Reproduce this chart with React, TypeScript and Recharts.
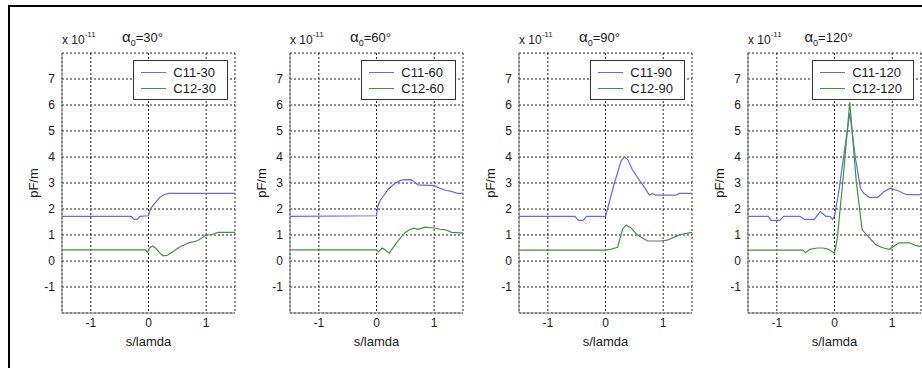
import { LineChart, Line, XAxis, YAxis, CartesianGrid, Legend, Label } from "recharts"

type Pt = [number, number]

// incidence angles, one panel each
const ANGLES = [30, 60, 90, 120]
const X_TICKS = [-1, 0, 1]
const Y_TICKS = [-1, 0, 1, 2, 3, 4, 5, 6, 7]

// values are in units of 1e-11 pF/m, x in s/lamda
const C11_30: Pt[] = [
  [-1.5, 1.72], [-0.3, 1.72], [-0.25, 1.6], [-0.2, 1.6], [-0.15, 1.72], [0, 1.74],
  [0.03, 2.0], [0.1, 2.2], [0.2, 2.45], [0.27, 2.55], [0.35, 2.6], [1.5, 2.6],
]
const C12_30: Pt[] = [
  [-1.5, 0.43], [-0.05, 0.43], [-0.02, 0.33], [0.02, 0.5], [0.07, 0.58], [0.12, 0.5],
  [0.2, 0.3], [0.25, 0.2], [0.33, 0.22], [0.45, 0.4], [0.55, 0.55], [0.7, 0.7],
  [0.85, 0.78], [1.0, 1.0], [1.1, 1.02], [1.2, 1.1], [1.5, 1.1],
]
const C11_60: Pt[] = [
  [-1.5, 1.72], [0, 1.74], [0.02, 2.1], [0.07, 2.35], [0.12, 2.5], [0.2, 2.75],
  [0.3, 2.95], [0.4, 3.08], [0.45, 3.12], [0.6, 3.13], [0.65, 3.05], [0.72, 2.93],
  [1.0, 2.9], [1.1, 2.8], [1.2, 2.72], [1.3, 2.68], [1.4, 2.6], [1.5, 2.6],
]
const C12_60: Pt[] = [
  [-1.5, 0.43], [0, 0.43], [0.03, 0.35], [0.1, 0.5], [0.15, 0.42], [0.22, 0.3],
  [0.3, 0.55], [0.4, 0.85], [0.5, 1.1], [0.57, 1.2], [0.65, 1.26], [0.72, 1.22],
  [0.85, 1.3], [1.0, 1.27], [1.1, 1.22], [1.2, 1.2], [1.3, 1.1], [1.5, 1.07],
]
const C11_90: Pt[] = [
  [-1.5, 1.72], [-0.53, 1.72], [-0.47, 1.56], [-0.39, 1.56], [-0.33, 1.72], [0, 1.72],
  [0.155, 3.0], [0.27, 3.85], [0.33, 4.0], [0.385, 3.9], [0.47, 3.5], [0.59, 3.1],
  [0.67, 2.85], [0.76, 2.54], [0.82, 2.6], [0.87, 2.53], [1.22, 2.53], [1.28, 2.6], [1.5, 2.6],
]
const C12_90: Pt[] = [
  [-1.5, 0.42], [0, 0.42], [0.1, 0.46], [0.21, 0.53], [0.3, 1.25], [0.36, 1.38],
  [0.44, 1.28], [0.53, 1.05], [0.61, 0.92], [0.73, 0.77], [0.96, 0.77], [1.07, 0.8],
  [1.19, 0.92], [1.3, 1.02], [1.5, 1.1],
]
const C11_120: Pt[] = [
  [-1.5, 1.72], [-1.15, 1.72], [-1.1, 1.56], [-0.95, 1.56], [-0.88, 1.72], [-0.6, 1.72],
  [-0.52, 1.6], [-0.35, 1.6], [-0.25, 1.9], [-0.15, 1.72], [-0.08, 1.72], [-0.03, 1.6],
  [0, 1.75], [0.07, 2.6], [0.17, 4.2], [0.265, 5.7], [0.36, 4.0], [0.45, 2.8], [0.5, 2.62],
  [0.6, 2.45], [0.75, 2.45], [0.85, 2.65], [0.97, 2.8], [1.1, 2.7], [1.25, 2.55], [1.5, 2.55],
]
const C12_120: Pt[] = [
  [-1.5, 0.42], [-0.55, 0.42], [-0.5, 0.32], [-0.43, 0.45], [-0.3, 0.5], [-0.2, 0.5],
  [-0.1, 0.45], [0, 0.3], [0.05, 0.9], [0.15, 3.2], [0.265, 6.1], [0.38, 3.0], [0.48, 1.2],
  [0.6, 0.9], [0.72, 0.62], [0.85, 0.5], [0.95, 0.45], [1.05, 0.6], [1.12, 0.7], [1.3, 0.7],
  [1.4, 0.6], [1.5, 0.55],
]

const C11 = [C11_30, C11_60, C11_90, C11_120]
const C12 = [C12_30, C12_60, C12_90, C12_120]

const PLOT_LEFT = [62, 290, 519, 748]
const PLOT_W = 173
const PLOT_TOP = 53
const PLOT_BOTTOM = 313
const Y_AXIS_W = 45
const X_AXIS_H = 40
const H = 368

const BLUE = "#6868ee"
const GREEN = "#3f943f"
const BOX = "#7a7a7a"
const INK = "#1a1a1a"
const FONT = '"Liberation Sans", Arial, sans-serif'

const toRows = (pts: Pt[]) => pts.map(([x, y]) => ({ x, y }))

function LegendBox({ angle }: { angle: number }) {
  const rows = [
    { name: `C11-${angle}`, color: BLUE },
    { name: `C12-${angle}`, color: GREEN },
  ]
  return (
    <div style={{ border: "1px solid #333", background: "#fff", padding: "3px 11px 3px 7px", fontFamily: FONT, fontSize: 13, color: INK }}>
      {rows.map(r => (
        <div key={r.name} style={{ display: "flex", alignItems: "center", height: 16 }}>
          <span style={{ display: "inline-block", width: 25, height: 0, borderTop: `1.5px solid ${r.color}`, marginRight: 7 }} />
          <span>{r.name}</span>
        </div>
      ))}
    </div>
  )
}

function Panel({ idx }: { idx: number }) {
  const angle = ANGLES[idx]
  const left = PLOT_LEFT[idx] - Y_AXIS_W
  const chartW = Y_AXIS_W + PLOT_W + 5

  return (
    <div style={{ position: "absolute", left, top: 0, width: chartW, height: H }}>
      {/* exponent and title above the axes box */}
      <div style={{ position: "absolute", left: Y_AXIS_W, top: 32, fontFamily: FONT, fontSize: 12, color: INK, whiteSpace: "nowrap" }}>
        x 10<sup style={{ fontSize: 8, position: "relative", top: -2 }}>-11</sup>
      </div>
      <div style={{ position: "absolute", left: Y_AXIS_W - 6, width: PLOT_W, top: 28, textAlign: "center", fontFamily: FONT, fontSize: 13, color: INK }}>
        <span style={{ fontSize: 15 }}>α</span><sub style={{ fontSize: 9 }}>0</sub>={angle}°
      </div>
      <LineChart
        width={chartW}
        height={H}
        margin={{ top: PLOT_TOP, right: 5, bottom: H - PLOT_BOTTOM - X_AXIS_H, left: 0 }}
        style={{ fontFamily: FONT }}
      >
        <CartesianGrid stroke="#222" strokeDasharray="2 2" />
        <XAxis
          type="number"
          dataKey="x"
          domain={[-1.5, 1.5]}
          ticks={X_TICKS}
          allowDataOverflow
          height={X_AXIS_H}
          tickLine={false}
          tickSize={3}
          axisLine={{ stroke: BOX }}
          tick={{ fontSize: 12, fill: INK }}
        >
          <Label
            content={({ viewBox }: any) => (
              <text x={viewBox.x + viewBox.width / 2} y={viewBox.y + 33} textAnchor="middle" fontSize={13} fill={INK} fontFamily={FONT}>
                s/lamda
              </text>
            )}
          />
        </XAxis>
        <XAxis xAxisId="top" orientation="top" type="number" domain={[-1.5, 1.5]} height={0} tick={false} tickLine={false} axisLine={{ stroke: BOX }} />
        <YAxis
          type="number"
          domain={[-2, 8]}
          ticks={Y_TICKS}
          allowDataOverflow
          width={Y_AXIS_W}
          tickLine={false}
          tickSize={5}
          axisLine={{ stroke: BOX }}
          tick={{ fontSize: 12, fill: INK }}
        >
          <Label
            content={({ viewBox }: any) => {
              const cx = viewBox.x + 16
              const cy = viewBox.y + viewBox.height / 2
              return (
                <text x={cx} y={cy} transform={`rotate(-90 ${cx} ${cy})`} textAnchor="middle" dominantBaseline="central" fontSize={13} fill={INK} fontFamily={FONT}>
                  pF/m
                </text>
              )
            }}
          />
        </YAxis>
        <YAxis yAxisId="right" orientation="right" type="number" domain={[-2, 8]} width={0} tick={false} tickLine={false} axisLine={{ stroke: BOX }} />
        <Legend
          layout="vertical"
          align="center"
          verticalAlign="middle"
          wrapperStyle={{ top: 60, right: 12, left: "auto", width: "auto" }}
          content={() => <LegendBox angle={angle} />}
        />
        <Line data={toRows(C11[idx])} dataKey="y" name={`C11-${angle}`} type="linear" stroke={BLUE} strokeWidth={1.2} dot={false} isAnimationActive={false} />
        <Line data={toRows(C12[idx])} dataKey="y" name={`C12-${angle}`} type="linear" stroke={GREEN} strokeWidth={1.2} dot={false} isAnimationActive={false} />
      </LineChart>
    </div>
  )
}

export default function App() {
  return (
    <div style={{ position: "absolute", left: 0, top: 0, width: 922, height: H, background: "#fff", overflow: "hidden" }}>
      <div style={{ position: "absolute", left: 8, top: 5, width: 914, height: H, borderTop: "2px solid #000", borderLeft: "2px solid #000" }} />
      {ANGLES.map((_, i) => (
        <Panel key={i} idx={i} />
      ))}
    </div>
  )
}
